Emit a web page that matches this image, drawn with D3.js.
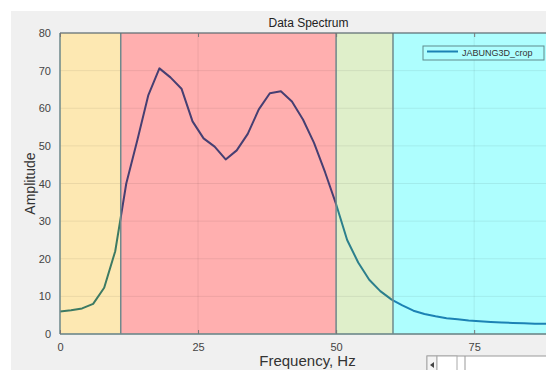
<!DOCTYPE html>
<html>
<head>
<meta charset="utf-8">
<script src="https://cdn.jsdelivr.net/npm/d3@7"></script>
<style>
  body { margin: 0; background: #fff; }
  svg { display: block; font-family: "Liberation Sans", Arial, sans-serif; }
</style>
</head>
<body>
<svg width="546" height="370" id="svg"></svg>
<script>
// spectrum samples (Hz / amplitude)
const freq = [0, 2, 4, 6, 8, 10, 12, 14, 16, 18, 20, 22, 24, 26, 28, 30, 32, 34, 36, 38, 40,
  42, 44, 46, 48, 50, 52, 54, 56, 58, 60, 62, 64, 66, 68, 70, 72, 74, 76, 78, 80, 82, 84, 86, 88, 90];
const amp = [6.0, 6.3, 6.8, 8.0, 12.3, 22, 40, 51.5, 63.5, 70.6, 68.2, 65.2, 56.5, 52, 49.8, 46.4, 48.8, 53.2, 59.7, 64, 64.5,
  61.8, 57, 50.8, 43, 34.5, 25, 19, 14.4, 11.4, 9.2, 7.6, 6.2, 5.3, 4.7, 4.2, 3.9, 3.6, 3.4, 3.2, 3.05, 2.95, 2.85, 2.75, 2.7, 2.65];

// frequency bands
const bandStart = [0, 11, 50, 60.3];
const bandEnd = [11, 50, 60.3, 90];
const bandFill = ["#fde8b2", "#ffafaf", "#dfefca", "#aefefe"];
const bandLine = ["#3d7a63", "#463f72", "#2c7f8c", "#1c82b4"];

const xTicks = [0, 25, 50, 75];
const yTicks = [0, 10, 20, 30, 40, 50, 60, 70, 80];
const seriesName = "JABUNG3D_crop";

let svg = d3.select("#svg");
let margin = {top: 33, left: 60};
let width = 497, height = 301;

// figure background
svg.append("rect").attr("x", 11).attr("y", 11).attr("width", 546).attr("height", 370).attr("fill", "#f0f0f0");

const x = d3.scaleLinear().domain([0, 90]).range([0, width]);
const y = d3.scaleLinear().domain([0, 80]).range([height, 0]);

let g = svg.append("g").attr("transform", "translate(" + margin.left + "," + margin.top + ")");

let data = freq.map((f, i) => ({f: f, a: amp[i]}));
let line = d3.line().x(d => x(d.f)).y(d => y(d.a));

// bands
g.selectAll(".band")
  .data(bandStart)
  .enter().append("rect")
    .attr("x", d => x(d))
    .attr("y", 0)
    .attr("width", (d, i) => x(bandEnd[i]) - x(d))
    .attr("height", height)
    .attr("fill", (d, i) => bandFill[i]);

// grid
g.append("g")
  .selectAll("line")
  .data(yTicks)
  .enter().append("line")
    .attr("x1", 0).attr("x2", width)
    .attr("y1", d => y(d)).attr("y2", d => y(d))
    .attr("stroke", "rgba(0,0,0,0.07)");
g.append("g")
  .selectAll("line")
  .data(xTicks)
  .enter().append("line")
    .attr("y1", 0).attr("y2", height)
    .attr("x1", d => x(d)).attr("x2", d => x(d))
    .attr("stroke", "rgba(0,0,0,0.07)");

// the curve, tinted per band
let defs = svg.append("defs");
bandStart.forEach((b, i) => {
  defs.append("clipPath").attr("id", "clip" + i)
    .append("rect")
      .attr("x", x(b)).attr("y", -5)
      .attr("width", x(bandEnd[i]) - x(b)).attr("height", height + 10);
  g.append("path")
    .datum(data)
    .attr("clip-path", "url(#clip" + i + ")")
    .attr("fill", "none")
    .attr("stroke", bandLine[i])
    .attr("stroke-width", 2)
    .attr("stroke-linejoin", "round")
    .attr("d", line);
});

// band edges
g.append("g")
  .selectAll("line")
  .data(bandStart.slice(1))
  .enter().append("line")
    .attr("x1", d => x(d)).attr("x2", d => x(d))
    .attr("y1", 0).attr("y2", height)
    .attr("stroke", "#6f8a8c")
    .attr("stroke-width", 1.5);

// axes frame
g.append("line").attr("x1", 0).attr("x2", width).attr("y1", 0).attr("y2", 0)
  .attr("stroke", "#5f6f74").attr("stroke-width", 1.5).attr("opacity", 0.8);
g.append("line").attr("x1", 0).attr("x2", width).attr("y1", height).attr("y2", height)
  .attr("stroke", "#6f8a8c").attr("stroke-width", 2).attr("opacity", 0.8);
g.append("line").attr("x1", 0).attr("x2", 0).attr("y1", 0).attr("y2", height)
  .attr("stroke", "#6f8a8c").attr("stroke-width", 1.5);

// ticks
g.append("g")
  .attr("transform", "translate(0," + height + ")")
  .call(d3.axisBottom(x).tickValues(xTicks).tickSize(-4).tickPadding(9))
  .call(a => a.select(".domain").remove())
  .call(a => a.selectAll("line").attr("stroke", "#777"))
  .call(a => a.selectAll("text").attr("fill", "#444").attr("font-size", 11));
g.append("g")
  .call(d3.axisTop(x).tickValues(xTicks).tickSize(-4).tickFormat(""))
  .call(a => a.select(".domain").remove())
  .call(a => a.selectAll("line").attr("stroke", "#777"));
g.append("g")
  .call(d3.axisLeft(y).tickValues(yTicks).tickSize(0).tickPadding(9))
  .call(a => a.select(".domain").remove())
  .call(a => a.selectAll("text").attr("fill", "#444").attr("font-size", 11));

// labels
svg.append("text")
  .attr("x", margin.left + width / 2).attr("y", 27)
  .attr("text-anchor", "middle").attr("font-size", 12).attr("fill", "#222")
  .text("Data Spectrum");
svg.append("text")
  .attr("x", margin.left + width / 2 - 1).attr("y", 366)
  .attr("text-anchor", "middle").attr("font-size", 15).attr("fill", "#333")
  .text("Frequency, Hz");
svg.append("text")
  .attr("transform", "translate(35," + (margin.top + height / 2) + ") rotate(-90)")
  .attr("text-anchor", "middle").attr("font-size", 14).attr("fill", "#333")
  .text("Amplitude");

// legend
let legend = svg.append("g").attr("transform", "translate(423,46)");
legend.append("rect").attr("width", 121).attr("height", 14)
  .attr("fill", "#aefefe").attr("stroke", "#5f8a8c");
legend.append("line").attr("x1", 4).attr("x2", 35).attr("y1", 5.5).attr("y2", 5.5)
  .attr("stroke", bandLine[3]).attr("stroke-width", 2);
legend.append("text").attr("x", 39).attr("y", 9.5)
  .attr("font-size", 9).attr("fill", "#333").text(seriesName);

// scroll bar stub
let sb = svg.append("g").attr("transform", "translate(427,356)");
sb.append("rect").attr("width", 125).attr("height", 18).attr("fill", "#fff").attr("stroke", "#999");
sb.append("rect").attr("width", 10).attr("height", 18).attr("fill", "#f4f4f4").attr("stroke", "#aaa");
sb.append("path").attr("d", "M7,6 L3,9 L7,12 Z").attr("fill", "#444");
sb.append("rect").attr("x", 10).attr("width", 20).attr("height", 18).attr("fill", "#fff").attr("stroke", "#aaa");
sb.append("line").attr("x1", 38).attr("x2", 38).attr("y1", 0).attr("y2", 18).attr("stroke", "#999");
</script>
</body>
</html>
